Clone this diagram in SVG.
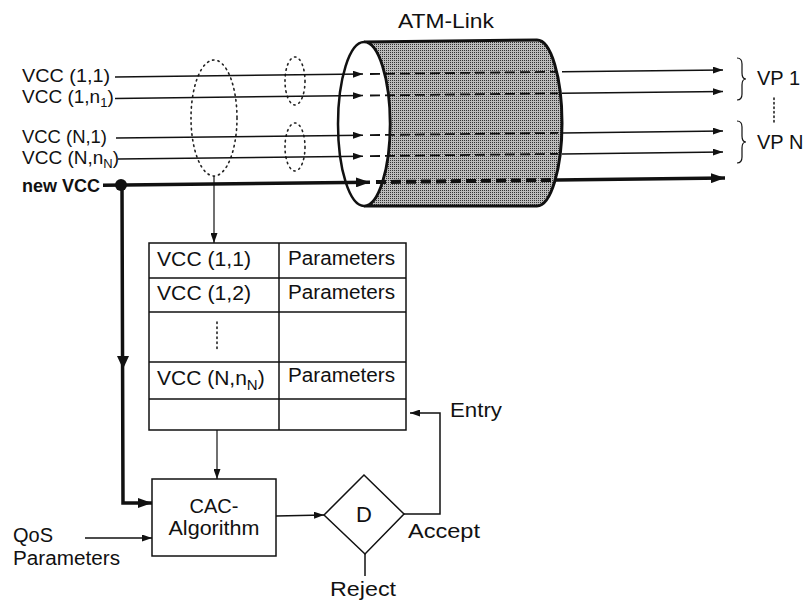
<svg xmlns="http://www.w3.org/2000/svg" width="810" height="601" viewBox="0 0 810 601">
<defs>
<style>
text{font-family:"Liberation Sans",Arial,sans-serif;fill:#111}
.lbl{font-size:19px}
.t{font-size:20px}
.thin{stroke:#111;stroke-width:1.5;fill:none}
.thick{stroke:#111;stroke-width:3.5;fill:none}
.dash{stroke:#111;stroke-width:1.8;stroke-dasharray:10 5;fill:none}
.dashT{stroke:#111;stroke-width:4;stroke-dasharray:10 5;fill:none}
.dot{stroke:#222;stroke-width:1.6;stroke-dasharray:1.5 4;fill:none;stroke-linecap:round}
.box{fill:#fff;stroke:#111;stroke-width:1.5}
</style>
<pattern id="stip" width="2" height="2" patternUnits="userSpaceOnUse">
<rect width="2" height="2" fill="#bcbcbc"/>
<rect width="1" height="1" fill="#333"/>
</pattern>
<marker id="ah" viewBox="0 0 10 7" refX="10" refY="3.5" markerWidth="10" markerHeight="7" orient="auto" markerUnits="userSpaceOnUse"><path d="M0,0 L10,3.5 L0,7 Z" fill="#111"/></marker>
<marker id="ahB" viewBox="0 0 14 10" refX="14" refY="5" markerWidth="14" markerHeight="10" orient="auto" markerUnits="userSpaceOnUse"><path d="M0,0 L14,5 L0,10 Z" fill="#111"/></marker>
</defs>
<rect width="810" height="601" fill="#fff"/>

<g id="atm-link">
<path d="M364,42 L537,40 A25,83 0 0 1 537,206 L364,206 A26,82 0 0 0 364,42 Z" fill="url(#stip)" stroke="#111" stroke-width="3"/>
<ellipse cx="364" cy="124" rx="26" ry="82" fill="#fff" stroke="#111" stroke-width="2.5"/>
<text x="398" y="28" style="font-size:21px" textLength="96" lengthAdjust="spacingAndGlyphs">ATM-Link</text>
</g>

<g id="labels-left">
<text class="lbl" x="22" y="82" textLength="88" lengthAdjust="spacingAndGlyphs">VCC (1,1)</text>
<text class="lbl" x="22" y="103">VCC (1,n<tspan style="font-size:13px" dy="4">1</tspan><tspan dy="-4">)</tspan></text>
<text class="lbl" x="22" y="143" textLength="85" lengthAdjust="spacingAndGlyphs">VCC (N,1)</text>
<text class="lbl" x="22" y="164">VCC (N,n<tspan style="font-size:13px" dy="4">N</tspan><tspan dy="-4">)</tspan></text>
<text x="22" y="192" style="font-size:18px;font-weight:bold" textLength="78" lengthAdjust="spacingAndGlyphs">new VCC</text>
</g>

<g id="groupings">
<ellipse class="dot" cx="214" cy="118" rx="23" ry="58"/>
<ellipse class="dot" cx="295" cy="81" rx="10" ry="24"/>
<ellipse class="dot" cx="295" cy="147" rx="10" ry="24"/>
</g>

<g id="vp-labels">
<path class="thin" style="stroke-width:1.2" d="M737,58 Q742,58 742,64 L742,73 Q742,79 746,79 Q742,79 742,85 L742,94 Q742,100 737,100"/>
<path class="thin" style="stroke-width:1.2" d="M737,121 Q742,121 742,127 L742,136 Q742,142 746,142 Q742,142 742,148 L742,157 Q742,163 737,163"/>
<line class="dot" x1="774" y1="98" x2="774" y2="124" style="stroke-dasharray:1.5 3"/>
<text class="t" x="757" y="85">VP 1</text>
<text class="t" x="757" y="149">VP N</text>
</g>

<g id="table">
<rect class="box" x="149" y="243" width="257" height="187"/>
<line class="thin" x1="149" y1="278" x2="406" y2="278"/>
<line class="thin" x1="149" y1="312" x2="406" y2="312"/>
<line class="thin" x1="149" y1="362" x2="406" y2="362"/>
<line class="thin" x1="149" y1="399" x2="406" y2="399"/>
<line class="thin" x1="279" y1="243" x2="279" y2="430"/>
<line class="dot" x1="217" y1="322" x2="217" y2="352" style="stroke-dasharray:1.5 3.5"/>
<text class="t" x="157" y="266" textLength="94" lengthAdjust="spacingAndGlyphs">VCC (1,1)</text>
<text class="t" x="288" y="265" textLength="107" lengthAdjust="spacingAndGlyphs">Parameters</text>
<text class="t" x="157" y="300" textLength="94" lengthAdjust="spacingAndGlyphs">VCC (1,2)</text>
<text class="t" x="288" y="299" textLength="107" lengthAdjust="spacingAndGlyphs">Parameters</text>
<text x="157" y="385" style="font-size:21px">VCC (N,n<tspan style="font-size:15px" dy="5">N</tspan><tspan dy="-5">)</tspan></text>
<text class="t" x="288" y="382" textLength="107" lengthAdjust="spacingAndGlyphs">Parameters</text>
</g>

<g id="cac">
<rect class="box" x="152" y="479" width="124" height="77"/>
<text class="t" x="214" y="513" text-anchor="middle">CAC-</text>
<text class="t" x="214" y="535" text-anchor="middle" textLength="91" lengthAdjust="spacingAndGlyphs">Algorithm</text>
</g>

<g id="qos">
<text class="t" x="13" y="542">QoS</text>
<text class="t" x="13" y="565" textLength="107" lengthAdjust="spacingAndGlyphs">Parameters</text>
</g>

<g id="decision">
<polygon class="box" points="324,515 364,475 404,514 365,554"/>
<text x="364" y="522" text-anchor="middle" style="font-size:22px">D</text>
<text class="t" x="408" y="538" textLength="72" lengthAdjust="spacingAndGlyphs">Accept</text>
<text class="t" x="330" y="596" textLength="66" lengthAdjust="spacingAndGlyphs">Reject</text>
<text class="t" x="450" y="417" textLength="52" lengthAdjust="spacingAndGlyphs">Entry</text>
</g>

<g id="connectors">
<line class="thin" x1="115" y1="77" x2="363" y2="74.1" marker-end="url(#ah)"/>
<line class="thin" x1="115" y1="98.5" x2="363" y2="95.6" marker-end="url(#ah)"/>
<line class="thin" x1="116" y1="138" x2="363" y2="135.2" marker-end="url(#ah)"/>
<line class="thin" x1="118" y1="159" x2="363" y2="156.2" marker-end="url(#ah)"/>
<line class="thick" x1="103" y1="185.2" x2="370" y2="182.2" marker-end="url(#ahB)"/>
<line class="dash" x1="370" y1="74" x2="558" y2="71.8"/>
<line class="dash" x1="370" y1="95.5" x2="558" y2="93.3"/>
<line class="dash" x1="370" y1="135.1" x2="558" y2="132.9"/>
<line class="dash" x1="370" y1="156.1" x2="558" y2="153.9"/>
<line class="dashT" x1="376" y1="182.1" x2="556" y2="180"/>
<line class="thin" x1="562" y1="71.8" x2="723" y2="70" marker-end="url(#ah)"/>
<line class="thin" x1="562" y1="93.3" x2="723" y2="91.5" marker-end="url(#ah)"/>
<line class="thin" x1="562" y1="132.9" x2="723" y2="131" marker-end="url(#ah)"/>
<line class="thin" x1="562" y1="153.9" x2="723" y2="152" marker-end="url(#ah)"/>
<line class="thick" x1="556" y1="180" x2="725" y2="178" marker-end="url(#ahB)"/>
<circle cx="121" cy="185" r="6" fill="#111"/>
<path class="thick" d="M122,185 L123,503 L152,503" marker-end="url(#ahB)"/>
<polygon points="123,369 117,356 129,356" fill="#111"/>
<line class="thin" x1="214" y1="176" x2="214" y2="243" style="stroke-width:1.2" marker-end="url(#ah)"/>
<line class="thin" x1="217" y1="430" x2="217" y2="479" style="stroke-width:1.2" marker-end="url(#ah)"/>
<line class="thin" x1="85" y1="538" x2="152" y2="538" marker-end="url(#ah)"/>
<line class="thin" x1="276" y1="516" x2="324" y2="515" marker-end="url(#ah)"/>
<path class="thin" d="M404,514 L440,514 L440,413 L410,413" marker-end="url(#ah)"/>
<line class="thin" x1="365" y1="554" x2="365" y2="576"/>
</g>
</svg>
